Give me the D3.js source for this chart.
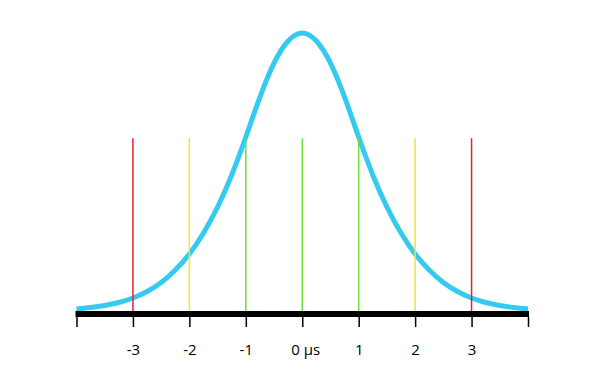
<!DOCTYPE html>
<html><head><meta charset="utf-8">
<script src="https://cdn.jsdelivr.net/npm/d3@7"></script>
<style>body{margin:0;background:#fff}svg{display:block}</style>
</head><body>
<script>
// Curve samples (x in σ units, relative density)
const curveX = [-4,-3.75,-3.5,-3.25,-3,-2.75,-2.5,-2.25,-2,-1.75,-1.5,-1.25,-1,-0.75,-0.5,-0.25,0,0.25,0.5,0.75,1,1.25,1.5,1.75,2,2.25,2.5,2.75,3,3.25,3.5,3.75,4];
const curveY = [0.0029,0.0050,0.0079,0.0122,0.0187,0.0280,0.0409,0.0588,0.0818,0.1119,0.1493,0.1952,0.2497,0.3071,0.3559,0.3875,0.3990,0.3875,0.3559,0.3071,0.2497,0.1952,0.1493,0.1119,0.0818,0.0588,0.0409,0.0280,0.0187,0.0122,0.0079,0.0050,0.0029];
// Marker lines
const markerX = [-3,-2,-1,0,1,2,3];
const markerColors = ["#e8202a","#f5e62a","#6ede3a","#6ede3a","#6ede3a","#f5e62a","#e8202a"];
const markerHeight = 0.248;
// Axis ticks
const tickValues = [-4,-3,-2,-1,0,1,2,3,4];
const tickLabels = {"-3":"-3","-2":"-2","-1":"-1","0":"0 μs","1":"1","2":"2","3":"3"};

const W = 605, H = 383;
const svg = d3.select("body").append("svg").attr("width", W).attr("height", H);

const x = d3.scaleLinear().domain([-4, 4]).range([76.5, 528]);
const y = d3.scaleLinear().domain([0, 0.399]).range([311, 33]);

const pts = curveX.map((v, i) => [v, curveY[i]]);
const line = d3.line().x(d => x(d[0])).y(d => y(d[1])).curve(d3.curveNatural);

svg.append("path").datum(pts).attr("d", line)
  .attr("fill", "none").attr("stroke", "#35cbf0").attr("stroke-width", 5)
  .attr("stroke-linejoin", "round");

svg.selectAll("line.marker").data(markerX).enter().append("line")
  .attr("class", "marker")
  .attr("x1", d => x(d)).attr("x2", d => x(d))
  .attr("y1", y(markerHeight)).attr("y2", 312)
  .attr("stroke", (d, i) => markerColors[i]).attr("stroke-width", 1.5);

// Axis
const axis = d3.axisBottom(x).tickValues(tickValues).tickSize(10).tickPadding(17)
  .tickFormat(d => tickLabels[String(d)] || "");
const g = svg.append("g").attr("transform", "translate(0,317)").call(axis);
g.select(".domain").remove();
g.selectAll(".tick line").attr("stroke", "#000").attr("stroke-width", 1.5);
g.selectAll(".tick text").attr("font-family", "'Open Sans', sans-serif")
  .attr("font-size", 15).attr("fill", "#000")
  .attr("dx", d => d === 0 ? 3 : 0);

svg.append("rect").attr("x", x(-4) - 1).attr("y", 311)
  .attr("width", x(4) - x(-4) + 2).attr("height", 6).attr("fill", "#000");
</script>
</body></html>
